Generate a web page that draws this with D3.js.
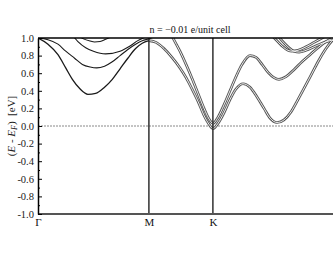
<!DOCTYPE html>
<html>
<head>
<meta charset="utf-8">
<script src="https://cdn.jsdelivr.net/npm/d3@7"></script>
<style>
  body { margin: 0; background: #fff; }
  text { font-family: "Liberation Serif", "DejaVu Serif", serif; }
</style>
</head>
<body>
<div id="wrapper"></div>
<script>
// k-path: Γ = 0, M = 1, K = 1.577, Γ = 2.732 (lengths ΓM : MK : KΓ)
const kPoints = [0, 1, 1.577, 2.732];
const kLabels = ["Γ", "M", "K", "Γ"];

const yTicks = [1.0, 0.8, 0.6, 0.4, 0.2, 0.0, -0.2, -0.4, -0.6, -0.8, -1.0];
const yTickLabels = ["1.0", "0.8", "0.6", "0.4", "0.2", "0.0", "-0.2", "-0.4", "-0.6", "-0.8", "-1.0"];
const yMinorTicks = [0.9, 0.7, 0.5, 0.3, 0.1, -0.1, -0.3, -0.5, -0.7, -0.9];

const title = "n = −0.01 e/unit cell";

// Γ–M bands, [k, E - E_F]
const gmBand1 = [[0, 1.0], [0.09, 0.93], [0.18, 0.81], [0.25, 0.66], [0.31, 0.53], [0.38, 0.42], [0.45, 0.36],
  [0.52, 0.37], [0.6, 0.44], [0.67, 0.53], [0.74, 0.65], [0.81, 0.77], [0.88, 0.88], [0.94, 0.94], [1.0, 0.97]];
const gmBand2 = [[0, 1.0], [0.09, 0.98], [0.18, 0.93], [0.25, 0.85], [0.33, 0.77], [0.4, 0.7], [0.47, 0.67],
  [0.53, 0.66], [0.6, 0.68], [0.67, 0.73], [0.74, 0.8], [0.81, 0.87], [0.88, 0.93], [0.94, 0.97], [1.0, 0.99], [1.08, 1.03]];
const gmBand3 = [[0.25, 1.1], [0.31, 1.03], [0.36, 0.96], [0.43, 0.89], [0.5, 0.85], [0.61, 0.82],
  [0.74, 0.85], [0.83, 0.91], [0.9, 0.97], [0.965, 1.01], [1.02, 1.05]];
const gmBand4 = [[0.36, 1.03], [0.41, 0.99], [0.47, 0.965], [0.51, 0.955], [0.56, 0.96], [0.61, 0.985], [0.67, 1.02]];

// M–K–Γ bands (spin split, drawn as double lines)
const bandA = [[1.0, 0.97], [1.064, 0.95], [1.136, 0.88], [1.208, 0.78], [1.28, 0.66], [1.335, 0.55], [1.389, 0.42],
  [1.443, 0.28], [1.497, 0.12], [1.542, 0.02], [1.578, -0.03], [1.623, 0.03], [1.677, 0.15], [1.731, 0.3],
  [1.785, 0.42], [1.849, 0.48], [1.912, 0.44], [1.975, 0.33], [2.038, 0.2], [2.092, 0.09], [2.155, 0.04],
  [2.218, 0.07], [2.281, 0.16], [2.344, 0.3], [2.408, 0.45], [2.471, 0.6], [2.534, 0.75], [2.597, 0.88],
  [2.66, 0.98], [2.732, 1.05]];
const bandB = [[1.1, 1.3], [1.154, 1.17], [1.217, 1.0], [1.28, 0.85], [1.335, 0.7], [1.389, 0.54], [1.443, 0.37],
  [1.497, 0.2], [1.542, 0.08], [1.578, 0.03], [1.623, 0.1], [1.677, 0.24], [1.731, 0.4], [1.785, 0.56],
  [1.84, 0.7], [1.912, 0.8], [1.966, 0.78], [2.02, 0.7], [2.074, 0.61], [2.128, 0.55], [2.173, 0.53],
  [2.236, 0.56], [2.308, 0.64], [2.38, 0.73], [2.453, 0.81], [2.525, 0.89], [2.597, 0.96], [2.66, 1.0], [2.732, 1.03]];
const bandC = [[2.092, 1.05], [2.146, 0.98], [2.2, 0.91], [2.254, 0.86], [2.29, 0.85], [2.344, 0.86],
  [2.417, 0.9], [2.489, 0.95], [2.561, 1.0], [2.633, 1.05]];
const bandD = [[2.146, 1.05], [2.2, 0.97], [2.254, 0.9], [2.308, 0.85], [2.354, 0.84], [2.417, 0.86],
  [2.489, 0.9], [2.561, 0.94], [2.633, 0.97], [2.732, 1.0]];

const singleBands = [gmBand1, gmBand2, gmBand3, gmBand4];
const doubleBands = [bandA, bandB, bandC, bandD];

let dimensions = {
  width: 333,
  height: 258,
  margin: { top: 38, left: 38, bottom: 44, right: -8 }
};
dimensions.boundedWidth = dimensions.width - dimensions.margin.left - dimensions.margin.right;
dimensions.boundedHeight = dimensions.height - dimensions.margin.top - dimensions.margin.bottom;

const wrapper = d3.select("#wrapper").append("svg")
  .attr("width", dimensions.width)
  .attr("height", dimensions.height);

const container = wrapper.append("g")
  .attr("transform", `translate(${dimensions.margin.left},${dimensions.margin.top})`);

const xScale = d3.scaleLinear()
  .domain([0, 2.732])
  .range([0, dimensions.boundedWidth]);
const yScale = d3.scaleLinear()
  .domain([-1, 1])
  .range([dimensions.boundedHeight, 0]);

container.append("clipPath").attr("id", "plotClip")
  .append("rect")
  .attr("width", dimensions.boundedWidth)
  .attr("height", dimensions.boundedHeight);

// Fermi level
container.append("line")
  .attr("x1", 0).attr("x2", dimensions.boundedWidth)
  .attr("y1", yScale(0)).attr("y2", yScale(0))
  .attr("stroke", "#888").attr("stroke-width", 1)
  .attr("stroke-dasharray", "2,1");

const lineGen = d3.line()
  .x(d => xScale(d[0]))
  .y(d => yScale(d[1]))
  .curve(d3.curveMonotoneX);

const bands = container.append("g").attr("clip-path", "url(#plotClip)");

bands.selectAll("path.outer")
  .data(doubleBands)
  .enter().append("path")
  .attr("class", "outer")
  .attr("d", lineGen)
  .attr("fill", "none")
  .attr("stroke", "#555")
  .attr("stroke-width", 2.7);
bands.selectAll("path.inner")
  .data(doubleBands)
  .enter().append("path")
  .attr("class", "inner")
  .attr("d", lineGen)
  .attr("fill", "none")
  .attr("stroke", "#fff")
  .attr("stroke-width", 0.9);

bands.selectAll("path.single")
  .data(singleBands)
  .enter().append("path")
  .attr("class", "single")
  .attr("d", lineGen)
  .attr("fill", "none")
  .attr("stroke", "#1a1a1a")
  .attr("stroke-width", (d, i) => i === 0 ? 1.3 : 1.1);

// symmetry point lines
container.selectAll("line.kline")
  .data(kPoints.slice(1, 3))
  .enter().append("line")
  .attr("class", "kline")
  .attr("x1", d => xScale(d)).attr("x2", d => xScale(d))
  .attr("y1", 0).attr("y2", dimensions.boundedHeight)
  .attr("stroke", "#222").attr("stroke-width", 1.4);

// frame
container.append("line")
  .attr("x1", 0).attr("x2", dimensions.boundedWidth)
  .attr("y1", 0).attr("y2", 0)
  .attr("stroke", "#000").attr("stroke-width", 1.5);
container.append("line")
  .attr("x1", 0).attr("x2", dimensions.boundedWidth)
  .attr("y1", dimensions.boundedHeight).attr("y2", dimensions.boundedHeight)
  .attr("stroke", "#555").attr("stroke-width", 2);

// y axis with inward ticks
const yAxisGen = d3.axisLeft(yScale)
  .tickValues(yTicks)
  .tickFormat((d, i) => yTickLabels[i])
  .tickSizeInner(-4)
  .tickSizeOuter(0)
  .tickPadding(4);
const axisY = container.append("g").call(yAxisGen);
axisY.select(".domain").attr("stroke", "#000").attr("stroke-width", 1.5);
axisY.selectAll(".tick line").attr("stroke", "#000");
axisY.selectAll(".tick text")
  .attr("fill", "#222")
  .style("font-family", '"Liberation Serif", serif')
  .style("font-size", "10.5px");

const yMinorGen = d3.axisLeft(yScale)
  .tickValues(yMinorTicks)
  .tickFormat("")
  .tickSizeInner(-2)
  .tickSizeOuter(0);
const axisYMinor = container.append("g").call(yMinorGen);
axisYMinor.select(".domain").remove();
axisYMinor.selectAll(".tick line").attr("stroke", "#000");

// k labels (the closing Γ lies past the window edge)
const xAxisGen = d3.axisBottom(xScale)
  .tickValues(kPoints.slice(0, 3))
  .tickFormat((d, i) => kLabels[i])
  .tickSize(0)
  .tickPadding(4);
const axisX = container.append("g")
  .attr("transform", `translate(0,${dimensions.boundedHeight})`)
  .call(xAxisGen);
axisX.select(".domain").remove();
axisX.selectAll(".tick text")
  .attr("fill", "#111")
  .style("font-family", '"Liberation Serif", serif')
  .style("font-size", "11px");

// title
wrapper.append("text")
  .attr("x", 190).attr("y", 33)
  .attr("text-anchor", "middle")
  .attr("fill", "#111")
  .style("font-size", "10px")
  .text(title);

// y label
const yLabel = wrapper.append("text")
  .attr("transform", `translate(15,${dimensions.margin.top + yScale(0)}) rotate(-90)`)
  .attr("text-anchor", "middle")
  .attr("fill", "#222")
  .style("font-size", "11px")
  .style("white-space", "pre");
yLabel.append("tspan").text("(");
yLabel.append("tspan").style("font-style", "italic").text("E");
yLabel.append("tspan").text(" - ");
yLabel.append("tspan").style("font-style", "italic").text("E");
yLabel.append("tspan").style("font-style", "italic").style("font-size", "8px").attr("dy", 2).text("F");
yLabel.append("tspan").attr("dy", -2).text(")  [eV]");
</script>
</body>
</html>
